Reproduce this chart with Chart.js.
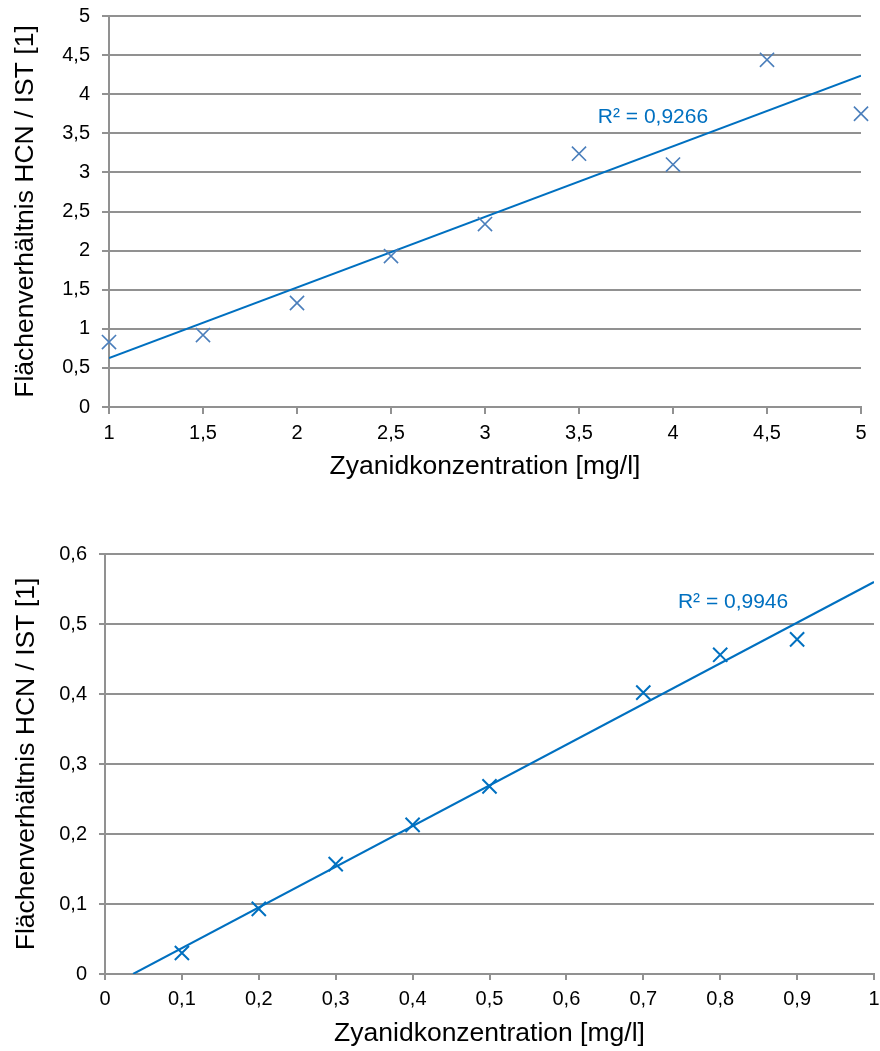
<!DOCTYPE html>
<html>
<head>
<meta charset="utf-8">
<script src="https://cdn.jsdelivr.net/npm/chart.js@4"></script>
<style>
  body { margin: 0; background: #fff; }
  .box { position: absolute; left: 0; }
</style>
</head>
<body>
<div class="box" style="top:0"><canvas id="top" width="880" height="490"></canvas></div>
<div class="box" style="top:530px"><canvas id="bottom" width="880" height="521"></canvas></div>
<script>
// top chart: 1 - 5 mg/l
const topConc = [1, 1.5, 2, 2.5, 3, 3.5, 4, 4.5, 5];
const topRatio = [0.83, 0.92, 1.33, 1.93, 2.34, 3.24, 3.10, 4.44, 3.75];
const topTrendX = [1, 5];
const topTrendY = [0.626, 4.237];
const topR2 = "R² = 0,9266";

// bottom chart: 0.1 - 0.9 mg/l
const bottomConc = [0.1, 0.2, 0.3, 0.4, 0.5, 0.7, 0.8, 0.9];
const bottomRatio = [0.030, 0.093, 0.157, 0.213, 0.268, 0.402, 0.456, 0.478];
const bottomTrendX = [0.0365, 1];
const bottomTrendY = [0, 0.56];
const bottomR2 = "R² = 0,9946";

const xTitle = "Zyanidkonzentration [mg/l]";
const yTitle = "Flächenverhältnis HCN / IST [1]";

const FONT = '"Liberation Sans", Arial, sans-serif';
const GRID = "#919191";
const LINE = "#0070c0";

function pts(xs, ys) {
  return xs.map((x, i) => ({ x: x, y: ys[i] }));
}

// german decimal comma, no trailing zeros
function deNum(v) {
  return String(Math.round(v * 100) / 100).replace(".", ",");
}

// the layout padding already leaves room for overhanging tick labels
function noLabelPad(s) {
  s.paddingTop = 0;
  s.paddingBottom = 0;
  s.paddingLeft = 0;
  s.paddingRight = 0;
}

const r2Label = {
  id: "r2Label",
  afterDatasetsDraw(chart, args, opts) {
    const ctx = chart.ctx;
    ctx.save();
    ctx.font = "21px " + FONT;
    ctx.fillStyle = LINE;
    ctx.textAlign = "left";
    ctx.textBaseline = "middle";
    ctx.fillText(opts.text, chart.scales.x.getPixelForValue(opts.x), chart.scales.y.getPixelForValue(opts.y));
    ctx.restore();
  }
};

function makeChart(id, cfg) {
  return new Chart(document.getElementById(id), {
    type: "scatter",
    data: {
      datasets: [{
        data: pts(cfg.xs, cfg.ys),
        showLine: false,
        clip: false,
        pointStyle: "crossRot",
        pointRadius: 10,
        pointHoverRadius: 10,
        pointBorderWidth: cfg.markWidth,
        borderColor: cfg.markColor,
        backgroundColor: cfg.markColor
      }, {
        data: pts(cfg.tx, cfg.ty),
        showLine: true,
        pointRadius: 0,
        borderColor: LINE,
        borderWidth: 2
      }]
    },
    options: {
      responsive: false,
      animation: false,
      layout: { padding: cfg.pad, autoPadding: false },
      plugins: {
        legend: { display: false },
        tooltip: { enabled: false },
        r2Label: { text: cfg.r2, x: cfg.r2x, y: cfg.r2y }
      },
      scales: {
        x: {
          type: "linear",
          min: cfg.xmin,
          max: cfg.xmax,
          afterFit: function (s) { s.height = 76; noLabelPad(s); },
          ticks: {
            stepSize: cfg.xstep,
            color: "#000",
            padding: 7,
            maxRotation: 0,
            callback: deNum,
            font: { family: FONT, size: 20 }
          },
          grid: { drawOnChartArea: false, color: GRID, lineWidth: 2, tickLength: cfg.tick },
          border: { color: GRID, width: 2 },
          title: {
            display: true,
            text: xTitle,
            color: "#000",
            padding: { top: 0, bottom: 0 },
            font: { family: FONT, size: 26.5 }
          }
        },
        y: {
          min: 0,
          max: cfg.ymax,
          afterFit: function (s) { s.width = cfg.yw; noLabelPad(s); },
          ticks: {
            stepSize: cfg.ystep,
            color: "#000",
            padding: cfg.ypad,
            callback: deNum,
            font: { family: FONT, size: 20 }
          },
          grid: { color: GRID, lineWidth: 2, tickLength: cfg.tick },
          border: { color: GRID, width: 2 },
          title: {
            display: true,
            text: yTitle,
            color: "#000",
            padding: { top: cfg.ytp, bottom: 0 },
            font: { family: FONT, size: 26.5 }
          }
        }
      }
    },
    plugins: [r2Label]
  });
}

makeChart("top", {
  xs: topConc, ys: topRatio, tx: topTrendX, ty: topTrendY,
  markColor: "#4a7ebb", markWidth: 1.6,
  r2: topR2, r2x: 3.6, r2y: 3.71,
  xmin: 1, xmax: 5, xstep: 0.5, ymax: 5, ystep: 0.5,
  pad: { top: 16, right: 19, bottom: 7, left: 0 },
  yw: 109, ypad: 12, ytp: 10, tick: 7
});

makeChart("bottom", {
  xs: bottomConc, ys: bottomRatio, tx: bottomTrendX, ty: bottomTrendY,
  markColor: LINE, markWidth: 2,
  r2: bottomR2, r2x: 0.745, r2y: 0.531,
  xmin: 0, xmax: 1, xstep: 0.1, ymax: 0.6, ystep: 0.1,
  pad: { top: 24, right: 6, bottom: 1, left: 0 },
  yw: 105, ypad: 12, ytp: 11, tick: 6
});
</script>
</body>
</html>
